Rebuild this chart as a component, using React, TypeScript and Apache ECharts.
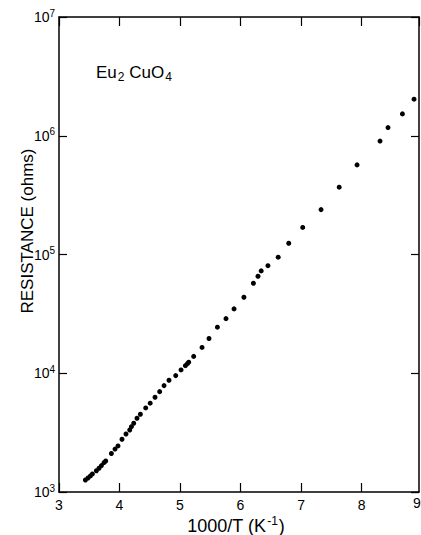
import React, { useEffect, useRef } from "react";
import * as echarts from "echarts";

const inverseTemp: number[] = [
  3.436, 3.479, 3.519, 3.552, 3.618, 3.661, 3.701, 3.744, 3.772, 3.866,
  3.926, 3.975, 4.041, 4.107, 4.169, 4.197, 4.235, 4.289, 4.345, 4.433,
  4.507, 4.587, 4.664, 4.736, 4.818, 4.929, 5.017, 5.089, 5.122, 5.144,
  5.226, 5.364, 5.479, 5.618, 5.76, 5.893, 6.056, 6.213, 6.289, 6.342,
  6.453, 6.623, 6.797, 7.028, 7.331, 7.631, 7.926, 8.306, 8.438, 8.676,
  8.868,
];
const resistance: number[] = [
  1262, 1312, 1365, 1419, 1511, 1585, 1668, 1770, 1824, 2109,
  2300, 2443, 2780, 3080, 3327, 3548, 3793, 4178, 4518, 5105,
  5598, 6281, 7000, 7870, 8730, 9550, 10670, 11590, 12050, 12390,
  13870, 16490, 19630, 24430, 28840, 34830, 43660, 57280, 65610, 72780,
  80510, 94900, 124400, 169100, 238800, 368800, 568500, 901600, 1172000, 1528000,
  2031000,
];

const xTicks = [3, 4, 5, 6, 7, 8, 9];
const FONT = "'Liberation Sans', Arial, Helvetica, sans-serif";

export default function App() {
  const ref = useRef<HTMLDivElement>(null);
  useEffect(() => {
    if (!ref.current) return;
    const chart = echarts.init(ref.current, undefined, { renderer: "svg" });
    const data = inverseTemp.map((x, i) => [x, resistance[i]]);
    const axisLine = { show: true, lineStyle: { color: "#000", width: 1.5 } };
    const tick = { show: true, inside: true, length: 9, lineStyle: { color: "#000", width: 1.2 } };
    chart.setOption({
      animation: false,
      backgroundColor: "#fff",
      grid: { left: 59, top: 17, width: 360, height: 475, containLabel: false },
      xAxis: [
        {
          type: "value",
          position: "bottom",
          min: xTicks[0],
          max: 8.95,
          interval: 1,
          axisLine,
          axisTick: tick,
          splitLine: { show: false },
          axisLabel: {
            color: "#000",
            fontSize: 14,
            fontFamily: FONT,
            margin: 6,
            showMaxLabel: false,
            formatter: (v: number) => (Number.isInteger(v) ? String(v) : ""),
          },
        },
        {
          type: "value",
          position: "top",
          min: xTicks[0],
          max: 8.95,
          interval: 1,
          axisLine,
          axisTick: tick,
          splitLine: { show: false },
          axisLabel: { show: false },
        },
      ],
      yAxis: [
        {
          type: "log",
          logBase: 10,
          min: 1e3,
          max: 1e7,
          position: "left",
          axisLine,
          axisTick: { ...tick, length: 8 },
          minorTick: { show: false },
          splitLine: { show: false },
          axisLabel: {
            color: "#000",
            margin: 4,
            fontFamily: FONT,
            formatter: (v: number) => `{b|10}{s|${Math.round(Math.log10(v))}}`,
            rich: {
              b: { fontSize: 14, fontFamily: FONT, color: "#000" },
              s: { fontSize: 10, fontFamily: FONT, color: "#000", padding: [0, 0, 8, 0] },
            },
          },
        },
        {
          type: "log",
          logBase: 10,
          min: 1e3,
          max: 1e7,
          position: "right",
          axisLine,
          axisTick: { ...tick, length: 8 },
          splitLine: { show: false },
          axisLabel: { show: false },
        },
      ],
      series: [
        {
          type: "scatter",
          data,
          symbol: "circle",
          symbolSize: 5,
          itemStyle: { color: "#000", opacity: 1 },
        },
      ],
      graphic: [
        {
          type: "text",
          left: 96,
          top: 64,
          style: {
            text: "{a|Eu}{sub|2}{a| CuO}{sub|4}",
            rich: {
              a: { fontSize: 17, fontFamily: FONT, fill: "#000" },
              sub: { fontSize: 12, fontFamily: FONT, fill: "#000", padding: [8, 0, 0, 1] },
            },
          },
        },
        {
          type: "text",
          x: 236,
          y: 526,
          style: {
            text: "{a|1000/T (K}{s|-1}{a|)}",
            align: "center",
            verticalAlign: "middle",
            rich: {
              a: { fontSize: 18, fontFamily: FONT, fill: "#000" },
              s: { fontSize: 12, fontFamily: FONT, fill: "#000", padding: [0, 1, 10, 1] },
            },
          },
        },
        {
          type: "text",
          x: 27,
          y: 231,
          rotation: Math.PI / 2,
          style: {
            text: "RESISTANCE (ohms)",
            align: "center",
            verticalAlign: "middle",
            fontSize: 17,
            fontFamily: FONT,
            fill: "#000",
          },
        },
        {
          type: "text",
          x: 413,
          y: 503,
          style: {
            text: String(xTicks[6]),
            align: "left",
            verticalAlign: "middle",
            fontSize: 14,
            fontFamily: FONT,
            fill: "#000",
          },
        },
      ],
    });
    return () => chart.dispose();
  }, []);
  return (
    <div
      ref={ref}
      style={{ position: "absolute", left: 0, top: 0, width: 421, height: 535 }}
    />
  );
}
